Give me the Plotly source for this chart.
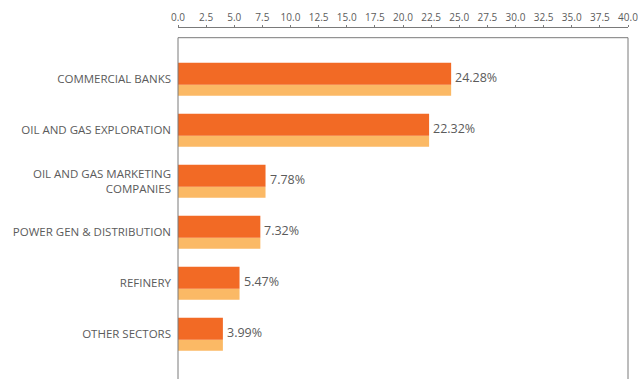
import plotly.graph_objects as go

# Sector weights (%)
sectors = [
    "COMMERCIAL BANKS",
    "OIL AND GAS EXPLORATION",
    "OIL AND GAS MARKETING<br>COMPANIES",
    "POWER GEN & DISTRIBUTION",
    "REFINERY",
    "OTHER SECTORS",
]
weights = [24.28, 22.32, 7.78, 7.32, 5.47, 3.99]
tick_vals = [i * 2.5 for i in range(17)]
tick_text = [f"{v:.1f}" for v in tick_vals]

DARK = "#F26A25"
LIGHT = "#FBB965"
TEXT = "#5b5b5b"
LINE = "#7a7a7a"
FONT = "Open Sans, Lato, sans-serif"

fig = go.Figure()

# lower, lighter strip of each bar
fig.add_trace(go.Bar(
    y=sectors, x=weights, orientation="h",
    marker=dict(color=LIGHT, line=dict(width=0)),
    width=0.216, offset=0.108,
    hoverinfo="skip", showlegend=False,
))
# upper, darker part of each bar
fig.add_trace(go.Bar(
    y=sectors, x=weights, orientation="h",
    marker=dict(color=DARK, line=dict(width=0)),
    width=0.432, offset=-0.324,
    hoverinfo="skip", showlegend=False,
))

# value labels to the right of the bars
for s, w in zip(sectors, weights):
    fig.add_annotation(
        x=w, y=s, xref="x", yref="y",
        text=f"{w:.2f}%", showarrow=False,
        xanchor="left", yanchor="middle", xshift=2, yshift=2,
        font=dict(family=FONT, size=12.5, color=TEXT),
    )

# chart frame below the top axis, with a doubled left rule
frame_top = (379 - 37.7) / 351
fig.add_shape(type="line", xref="paper", yref="paper",
              x0=0, x1=1, y0=frame_top, y1=frame_top,
              line=dict(color=LINE, width=1))
fig.add_shape(type="line", xref="paper", yref="paper",
              x0=1, x1=1, y0=frame_top, y1=-0.05,
              line=dict(color=LINE, width=1))
fig.add_shape(type="line", xref="paper", yref="paper",
              x0=0, x1=0, y0=frame_top, y1=-0.05,
              line=dict(color=LINE, width=1))
fig.add_shape(type="line", xref="x", yref="paper",
              xsizemode="pixel", xanchor=0, x0=-2.6, x1=-2.6,
              y0=frame_top, y1=-0.05,
              line=dict(color=LINE, width=1))

fig.update_layout(
    width=638, height=379,
    margin=dict(l=178, r=6, t=28, b=0),
    paper_bgcolor="white", plot_bgcolor="white",
    barmode="overlay",
    font=dict(family=FONT, color=TEXT),
    xaxis=dict(
        side="top", range=[0, 40],
        tickvals=tick_vals, ticktext=tick_text,
        tickfont=dict(family=FONT, size=10, color=TEXT),
        ticklabeloverflow="allow",
        showline=True, linecolor=LINE, linewidth=1,
        ticks="outside", ticklen=2, tickcolor=LINE,
        showgrid=False, zeroline=False, fixedrange=True,
    ),
    yaxis=dict(
        categoryorder="array", categoryarray=sectors,
        range=[5.878, -1.004],
        tickfont=dict(family=FONT, size=11.5, color=TEXT),
        ticks="", ticklabelstandoff=6,
        showline=False, showgrid=False, zeroline=False, fixedrange=True,
    ),
)

fig.write_html("out.html")
